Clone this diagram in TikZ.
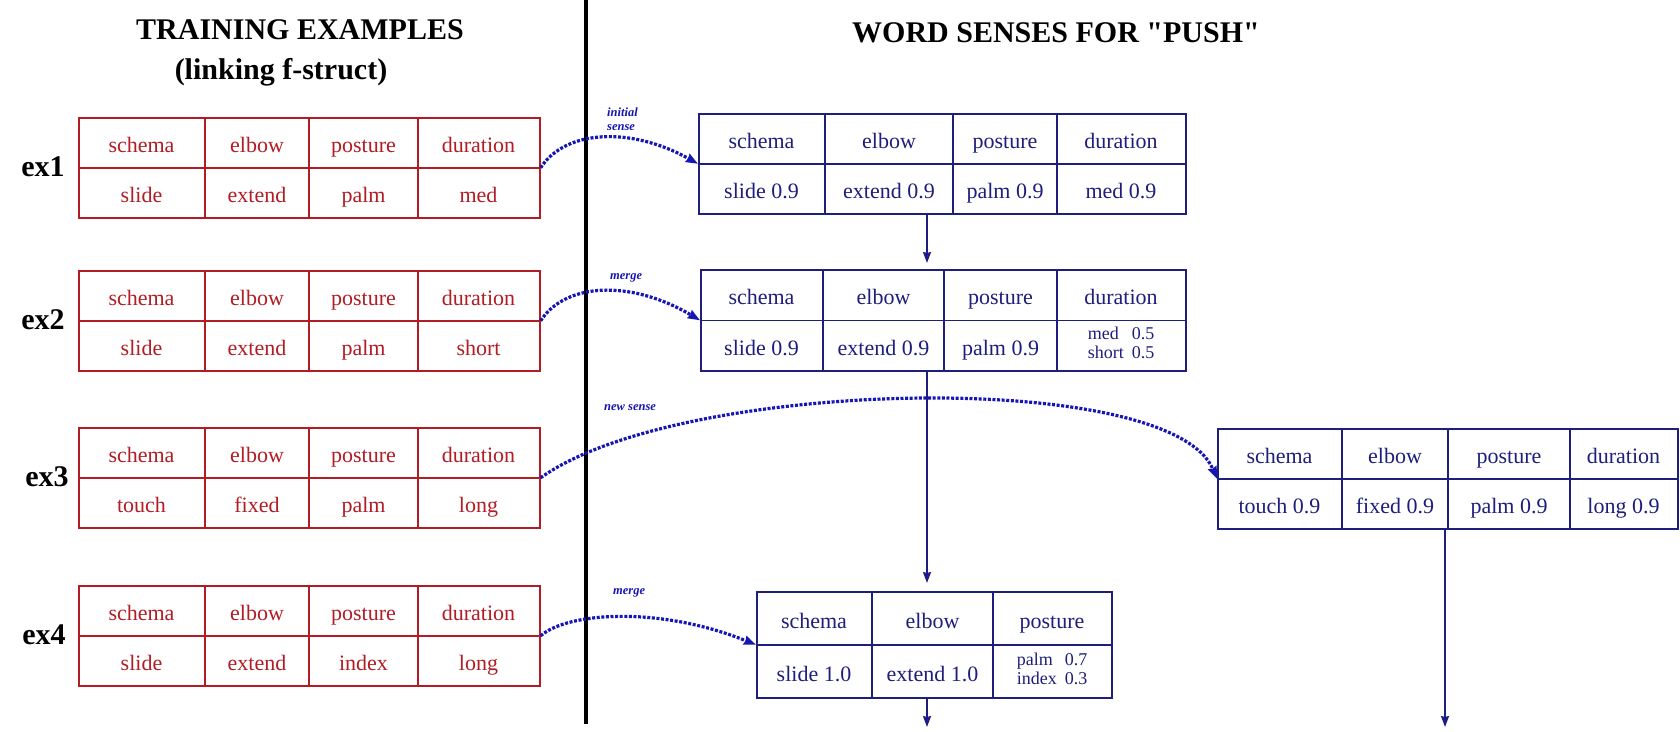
\documentclass[tikz,border=0pt]{standalone}
\usepackage{fontspec}
\setmainfont{Liberation Serif}[Ligatures=TeXOff]
\usetikzlibrary{arrows.meta,calc}

\definecolor{exred}{RGB}{178,28,36}
\definecolor{snblue}{RGB}{30,30,125}
\definecolor{linkblue}{RGB}{22,22,180}

\tikzset{
  exbox/.style={draw=exred, line width=1.6pt, inner sep=0pt, anchor=north west},
  exline/.style={draw=exred, line width=1.6pt},
  extext/.style={text=exred, font=\fontsize{22}{24}\selectfont, anchor=base, inner sep=0pt},
  snbox/.style={draw=snblue, line width=1.6pt, inner sep=0pt, anchor=north west},
  snline/.style={draw=snblue, line width=1.6pt},
  sntext/.style={text=snblue, font=\fontsize{22}{24}\selectfont, anchor=base, inner sep=0pt},
  sntwo/.style={text=snblue, font=\fontsize{18}{19}\selectfont, inner sep=0pt},
  heading/.style={font=\bfseries\fontsize{30}{34}\selectfont},
  exlabel/.style={font=\bfseries\fontsize{30}{34}\selectfont},
  senselink/.style={draw=linkblue, line width=3.2pt, dash pattern=on 3pt off 1.6pt,
    -{Stealth[length=12pt,width=9pt,inset=1pt]}},
  linknote/.style={text=linkblue, font=\bfseries\itshape\fontsize{12.5}{13}\selectfont,
    anchor=base west, inner sep=0pt},
  flow/.style={draw=snblue, line width=1.6pt,
    -{Stealth[length=11pt,width=8pt,inset=1pt,fill=linkblue]}},
}

% training example: box, row rule, column rules and the side tag
\newcommand\extable[4]{%
  \node[exbox, minimum width=461pt, minimum height=100pt] (#1) at (78,#2) {};
  \draw[exline] (#1.west) -- (#1.east);
  \foreach \cx in {205,309,418} \draw[exline] (\cx,#2) -- (\cx,{#2+100});
  \node[exlabel] (#1-tag) at (#4,{#2+50}) {#3};
}
% one row of a training example
\newcommand\exrow[6]{%
  \foreach [count=\i] \cx/\txt in {141.5/#3,257/#4,363.5/#5,478.5/#6}
    \node[extext] (#1-\i) at (\cx,#2) {\txt};
}
% one row of a word-sense table
\newcommand\snrow[3]{%
  \foreach [count=\i] \cx/\txt in {#3}
    \node[sntext] (#1-\i) at (\cx,#2) {\txt};
}

\begin{document}
\begin{tikzpicture}[x=1pt,y=-1pt]
\fill[white] (0,0) rectangle (1680,731);
\useasboundingbox (0,0) rectangle (1680,731);

% headings
\node[heading] (hl1) at (300,30) {TRAINING EXAMPLES};
\node[heading] (hl2) at (281,72) {(linking f-struct)};
\node[heading] (hr) at (1056,33) {WORD SENSES FOR "PUSH"};

% separator
\draw[line width=3.5pt] (586,0) -- (586,724);

% training examples
\extable{ex1}{117}{ex1}{43}
\exrow{ex1h}{152}{schema}{elbow}{posture}{duration}
\exrow{ex1v}{202}{slide}{extend}{palm}{med}

\extable{ex2}{270}{ex2}{43}
\exrow{ex2h}{305}{schema}{elbow}{posture}{duration}
\exrow{ex2v}{355}{slide}{extend}{palm}{short}

\extable{ex3}{427}{ex3}{47}
\exrow{ex3h}{462}{schema}{elbow}{posture}{duration}
\exrow{ex3v}{512}{touch}{fixed}{palm}{long}

\extable{ex4}{585}{ex4}{44}
\exrow{ex4h}{620}{schema}{elbow}{posture}{duration}
\exrow{ex4v}{670}{slide}{extend}{index}{long}

% sense 1
\node[snbox, minimum width=487pt, minimum height=100pt] (s1) at (698,113) {};
\draw[snline] (s1.west) -- (s1.east);
\foreach \cx in {825,953,1057} \draw[snline] (\cx,113) -- (\cx,213);
\snrow{s1h}{148}{761.5/schema,889/elbow,1005/posture,1121/duration}
\snrow{s1v}{198}{761.5/slide 0.9,889/extend 0.9,1005/palm 0.9,1121/med 0.9}

% sense 1 after merging ex2
\node[snbox, minimum width=485pt, minimum height=101pt] (s2) at (700,269) {};
\draw[snline] (s2.west) -- (s2.east);
\foreach \cx in {823,944,1057} \draw[snline] (\cx,269) -- (\cx,370);
\snrow{s2h}{304}{761.5/schema,883.5/elbow,1000.5/posture,1121/duration}
\snrow{s2v}{355}{761.5/slide 0.9,883.5/extend 0.9,1000.5/palm 0.9}
\node[sntwo] (s2v-4) at (1121,345)
  {\begin{tabular}{@{}l@{\hspace{8pt}}l@{}}med & 0.5\\ short & 0.5\end{tabular}};

% new sense from ex3
\node[snbox, minimum width=460pt, minimum height=100pt] (s3) at (1217,428) {};
\draw[snline] (s3.west) -- (s3.east);
\foreach \cx in {1342,1448,1570} \draw[snline] (\cx,428) -- (\cx,528);
\snrow{s3h}{463}{1279.5/schema,1395/elbow,1509/posture,1623.5/duration}
\snrow{s3v}{513}{1279.5/touch 0.9,1395/fixed 0.9,1509/palm 0.9,1623.5/long 0.9}

% sense 1 after merging ex4
\node[snbox, minimum width=355pt, minimum height=106pt] (s4) at (756,591) {};
\draw[snline] (s4.west) -- (s4.east);
\foreach \cx in {872,993} \draw[snline] (\cx,591) -- (\cx,697);
\snrow{s4h}{628}{814/schema,932.5/elbow,1052/posture}
\snrow{s4v}{681}{814/slide 1.0,932.5/extend 1.0}
\node[sntwo] (s4v-3) at (1052,671)
  {\begin{tabular}{@{}l@{\hspace{8pt}}l@{}}palm & 0.7\\ index & 0.3\end{tabular}};

% flow of the sense tables
\coordinate (fx) at (927,0);
\coordinate (gx) at (1445,0);
\coordinate (bottom) at (0,727);
\draw[flow, shorten >=6pt] (s1.south -| fx) -- (s2.north -| fx);
\draw[flow, shorten >=8pt] (s2.south -| fx) -- (s4.north -| fx);
\draw[flow] (s4.south -| fx) -- (bottom -| fx);
\draw[flow] (s3.south -| gx) -- (bottom -| gx);

% links from the training examples
\draw[senselink] (ex1.east) .. controls (565,130) and (630,126) .. (s1.west);
\draw[senselink] (ex2.east) .. controls (565,283) and (630,279) .. (s2.west);
\draw[senselink] (ex3.east) .. controls (680,378) and (1170,368) .. (s3.west);
\draw[senselink] (ex4.east) .. controls (568,612) and (660,606) .. (s4.west);

\node[linknote] (n1a) at (607,116) {initial};
\node[linknote] (n1b) at (607,130) {sense};
\node[linknote] (n2) at (610,279) {merge};
\node[linknote] (n3) at (604,410) {new sense};
\node[linknote] (n4) at (613,594) {merge};
\end{tikzpicture}
\end{document}
